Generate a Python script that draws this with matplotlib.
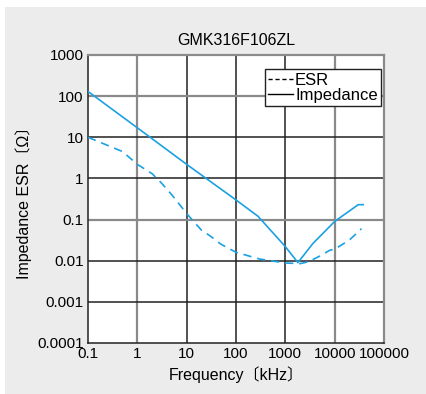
import numpy as np
import matplotlib.pyplot as plt
from matplotlib.patches import Rectangle
from matplotlib.lines import Line2D

plt.rcParams['font.family'] = ['Liberation Sans', 'Noto Sans CJK JP', 'DejaVu Sans']

# data (frequency in kHz, values in ohm)
imp_freq = [0.1, 1, 10, 100, 280, 1000, 1800, 3600, 10000, 30000, 38000]
imp_val = [130, 17, 2.2, 0.3, 0.12, 0.022, 0.009, 0.026, 0.09, 0.23, 0.23]

esr_freq = [0.1, 0.5, 1, 2, 3, 5, 10, 20, 30, 50, 100, 300, 1000, 2000,
            3000, 5000, 8000, 10000, 20000, 35000]
esr_val = [10, 4.5, 2.2, 1.3, 0.8, 0.4, 0.14, 0.055, 0.04, 0.025, 0.016,
           0.011, 0.0088, 0.0085, 0.0095, 0.013, 0.018, 0.019, 0.032, 0.06]

xticks = [0.1, 1, 10, 100, 1000, 10000, 100000]
xlabels = ['0.1', '1', '10', '100', '1000', '10000', '100000']
yticks = [0.0001, 0.001, 0.01, 0.1, 1, 10, 100, 1000]
ylabels = ['0.0001', '0.001', '0.01', '0.1', '1', '10', '100', '1000']

col = '#1ba1e2'
bg = '#ececec'

fig = plt.figure(figsize=(4.26, 3.94), dpi=100, facecolor='white')
fig.patches.append(Rectangle((5 / 426, 0), 1, 1 - 7 / 394, transform=fig.transFigure,
                             facecolor=bg, edgecolor='none', zorder=-10))
ax = fig.add_axes([88 / 426, 1 - 343 / 394, 296 / 426, 288 / 394])
ax.set_xscale('log')
ax.set_yscale('log')
ax.set_xlim(0.1, 100000)
ax.set_ylim(0.0001, 1000)

# grid, some lines gray and some black like the original
gray_x = [1, 10000]
gray_y = [100, 0.1]
for x in xticks[1:-1]:
    if x in gray_x:
        ax.axvline(x, color='#8a8a8a', lw=1.6, zorder=1)
    else:
        ax.axvline(x, color='#222222', lw=1.1, zorder=1)
for y in yticks[1:-1]:
    if y in gray_y:
        ax.axhline(y, color='#8a8a8a', lw=1.6, zorder=1)
    else:
        ax.axhline(y, color='#222222', lw=1.1, zorder=1)

ax.plot(esr_freq, esr_val, '--', color=col, lw=1.2, dashes=(5, 3.5), label='ESR', zorder=3)
ax.plot(imp_freq, imp_val, '-', color=col, lw=1.2, label='Impedance', zorder=3)

for s in ['left', 'bottom']:
    ax.spines[s].set_color('#222222')
    ax.spines[s].set_linewidth(1.1)
for s in ['right', 'top']:
    ax.spines[s].set_color('#8a8a8a')
    ax.spines[s].set_linewidth(1.6)

ax.set_xticks(xticks)
ax.set_xticklabels(xlabels)
ax.set_yticks(yticks)
ax.set_yticklabels(ylabels)
ax.minorticks_off()
ax.tick_params(length=0, labelsize=11, pad=3)

ax.set_title('GMK316F106ZL', fontsize=11.5, pad=7)
ax.set_xlabel('Frequency〔kHz〕', fontsize=11.5, labelpad=4)
ax.set_ylabel('Impedance ESR〔Ω〕', fontsize=11.5, labelpad=4)

# legend with black handles like the original
handles = [Line2D([], [], color='black', ls='--', lw=1, dashes=(3, 2)),
           Line2D([], [], color='black', ls='-', lw=1)]
leg = ax.legend(handles, ['ESR', 'Impedance'], loc='upper right',
                bbox_to_anchor=(0.99, 0.95), fontsize=12, fancybox=False,
                framealpha=1, edgecolor='#222222', handlelength=1.5,
                handletextpad=0.1, borderpad=0.2, labelspacing=0.0,
                borderaxespad=0)
leg.get_frame().set_linewidth(1)

fig.savefig('out.png', dpi=100, facecolor=fig.get_facecolor())
